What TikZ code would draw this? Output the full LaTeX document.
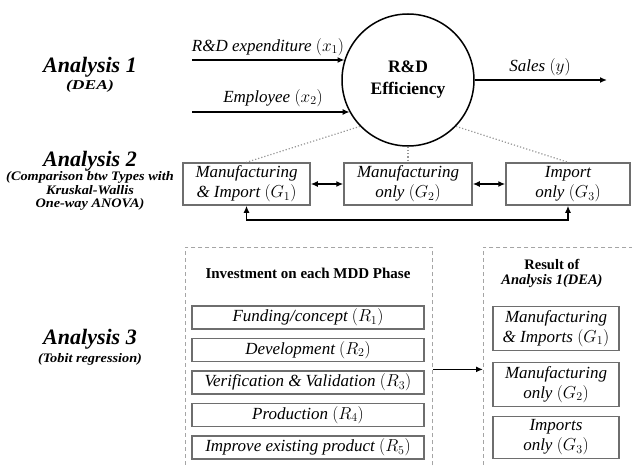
\documentclass[tikz,border=0pt]{standalone}
\usepackage{fontspec}
\setmainfont{Liberation Serif}
\newfontfamily\timesfont{Liberation Serif}
\newfontfamily\subfont[FakeStretch=1.1]{Liberation Serif}
\newfontfamily\widefont[FakeStretch=1.3]{Liberation Serif}
\usetikzlibrary{arrows.meta}
\definecolor{boxgray}{RGB}{110,110,110}
\definecolor{framegray}{RGB}{165,165,165}
\definecolor{dotgray}{RGB}{150,150,150}

\begin{document}
\begin{tikzpicture}[x=1pt, y=-1pt, >={Latex[length=7pt,width=6pt]},
    every node/.style={inner sep=0pt},
    antitle/.style={font=\timesfont\fontsize{22}{22}\selectfont\bfseries\itshape},
    ansub/.style={font=\subfont\fontsize{13}{13.5}\selectfont\bfseries\itshape, align=center},
    lbl/.style={font=\timesfont\fontsize{17}{20}\selectfont\itshape},
    gbox/.style={draw=boxgray, line width=1.5pt, align=center, font=\timesfont\fontsize{17}{20}\selectfont\itshape},
    rbox/.style={gbox, minimum width=232pt, minimum height=23pt},
    dframe/.style={draw=framegray, line width=0.8pt, dash pattern=on 4pt off 3pt, anchor=north west, minimum height=244pt},
    link/.style={draw=dotgray, line width=1.2pt, dotted},
    arr/.style={->, line width=1.5pt}]
        \useasboundingbox (0,0) rectangle (632,468);

        % Analysis titles
        \node[antitle] (a1) at (90,67) {Analysis 1};
        \node[ansub, font=\widefont\fontsize{13.5}{14}\selectfont\bfseries\itshape] (a1sub) at (90,86) {(DEA)};
        \node[antitle] (a2) at (90,161) {Analysis 2};
        \node[ansub] (a2sub) at (90,191) {(Comparison btw Types with\\Kruskal-Wallis\\One-way ANOVA)};
        \node[antitle] (a3) at (90,339) {Analysis 3};
        \node[ansub] (a3sub) at (90,359) {(Tobit regression)};

        % DEA efficiency
        \node[circle, draw, line width=1.5pt, minimum size=132pt, align=center,
              font=\timesfont\fontsize{17.5}{22}\selectfont\bfseries] (eff) at (408,80) {R\&D\\Efficiency};

        % inputs and output
        \coordinate (x1in) at (192,60);
        \coordinate (x2in) at (192,112);
        \coordinate (yout) at (607,80);
        \draw[arr] (x1in) -- (x1in -| eff.162);
        \draw[arr] (x2in) -- (x2in -| eff.209);
        \draw[arr] (eff) -- (yout);
        \node[lbl] (x1lbl) at (268,47) {R\&D expenditure $(x_1)$};
        \node[lbl] (x2lbl) at (273,98) {Employee $(x_2)$};
        \node[lbl] (ylbl) at (540,67) {Sales $(y)$};

        % types
        \node[gbox, minimum width=127pt, minimum height=42pt] (g1) at (246.5,184) {Manufacturing\\\& Import $(G_1)$};
        \node[gbox, minimum width=128pt, minimum height=42pt] (g2) at (408,184) {Manufacturing\\only $(G_2)$};
        \node[gbox, minimum width=124pt, minimum height=42pt] (g3) at (568,184) {Import\\only $(G_3)$};

        \draw[link] (eff.224) -- (g1.north);
        \draw[link] (eff.south) -- (g2.north);
        \draw[link] (eff.316) -- (g3.north);

        \draw[<->, line width=1.5pt] (g1) -- (g2);
        \draw[<->, line width=1.5pt] (g2) -- (g3);
        \draw[<->, line width=1.5pt] (g1.south) -- ++(0,14) -| (g3.south);

        % Tobit regression
        \node[dframe, minimum width=247pt] (phase) at (185,247) {};
        \node[dframe, minimum width=170pt] (result) at (483,247) {};
        \draw[arr] (phase) -- (result);

        \node[font=\timesfont\fontsize{15}{15}\selectfont\bfseries] (phasehead) at (308,273) {Investment on each MDD Phase};
        \node[rbox] (r1) at (308,317.5) {Funding/concept $(R_1)$};
        \node[rbox] (r2) at (308,350) {Development $(R_2)$};
        \node[rbox] (r3) at (308,382.5) {Verification \& Validation $(R_3)$};
        \node[rbox] (r4) at (308,415) {Production $(R_4)$};
        \node[rbox] (r5) at (308,447.5) {Improve existing product $(R_5)$};

        \node[align=center, font=\timesfont\fontsize{14.5}{15}\selectfont\bfseries] (reshead) at (552,273.5) {Result of\\\textit{Analysis 1(DEA)}};
        \node[gbox, minimum width=126pt, minimum height=44pt] (rg1) at (556,328.5) {Manufacturing\\\& Imports $(G_1)$};
        \node[gbox, minimum width=126pt, minimum height=44pt] (rg2) at (556,384.5) {Manufacturing\\only $(G_2)$};
        \node[gbox, minimum width=126pt, minimum height=42pt] (rg3) at (556,437.5) {Imports\\only $(G_3)$};

    \end{tikzpicture}
\end{document}
